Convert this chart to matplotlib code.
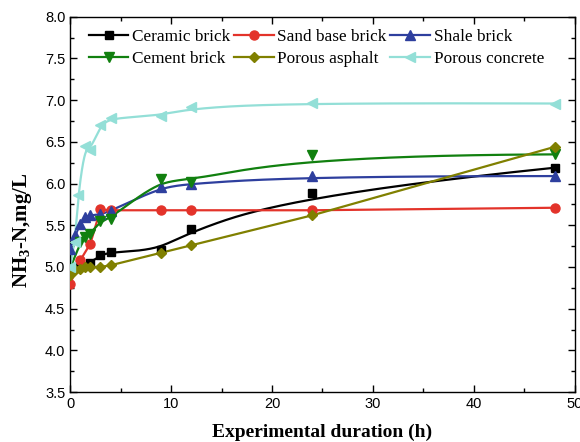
import numpy as np
import matplotlib
matplotlib.use("Agg")
import matplotlib.pyplot as plt
from matplotlib.lines import Line2D
from matplotlib.ticker import MultipleLocator

# Data (time in h, NH3-N in mg/L)
t_ceramic = [0, 1, 2, 3, 4, 9, 12, 24, 48]
ceramic = [4.95, 5.02, 5.05, 5.14, 5.18, 5.20, 5.46, 5.89, 6.19]

t_sand = [0, 1, 2, 3, 4, 9, 12, 24, 48]
sand = [4.80, 5.08, 5.28, 5.69, 5.68, 5.68, 5.68, 5.68, 5.71]

t_shale = [0, 0.5, 1, 1.5, 2, 3, 4, 9, 12, 24, 48]
shale = [5.22, 5.38, 5.52, 5.60, 5.62, 5.63, 5.67, 5.96, 6.00, 6.09, 6.09]

t_cement = [0, 1, 1.5, 2, 3, 4, 9, 12, 24, 48]
cement = [4.98, 5.30, 5.36, 5.40, 5.55, 5.58, 6.06, 6.02, 6.34, 6.35]

t_asphalt = [0, 0.5, 1, 1.5, 2, 3, 4, 9, 12, 24, 48]
asphalt = [4.90, 4.96, 4.98, 5.00, 5.00, 5.00, 5.02, 5.17, 5.26, 5.62, 6.44]

t_concrete = [0, 0.5, 0.75, 1.5, 2, 3, 4, 9, 12, 24, 48]
concrete = [5.00, 5.30, 5.86, 6.45, 6.40, 6.70, 6.79, 6.81, 6.92, 6.97, 6.96]

labels = ["Ceramic brick", "Sand base brick", "Shale brick",
          "Cement brick", "Porous asphalt", "Porous concrete"]


def bspline(x, y, n=400, k=3):
    # clamped cubic B-spline using the points as control points (Origin "B-Spline")
    P = np.column_stack([x, y]).astype(float)
    m = len(P)
    knots = np.concatenate([np.zeros(k), np.linspace(0, 1, m - k + 1), np.ones(k)])
    u = np.linspace(0, 1 - 1e-9, n)
    N = np.zeros((n, len(knots) - 1))
    for i in range(len(knots) - 1):
        N[:, i] = (u >= knots[i]) & (u < knots[i + 1])
    for d in range(1, k + 1):
        Nn = np.zeros((n, len(knots) - 1 - d))
        for i in range(len(knots) - 1 - d):
            a = knots[i + d] - knots[i]
            b = knots[i + d + 1] - knots[i + 1]
            left = (u - knots[i]) / a * N[:, i] if a > 0 else 0
            right = (knots[i + d + 1] - u) / b * N[:, i + 1] if b > 0 else 0
            Nn[:, i] = left + right
        N = Nn
    C = N @ P
    C[-1] = P[-1]
    return C[:, 0], C[:, 1]


series = [
    (t_ceramic, ceramic, "black", "s", True),
    (t_sand, sand, "#E3332A", "o", False),
    (t_shale, shale, "#2E3F9E", "^", True),
    (t_cement, cement, "#11800F", "v", True),
    (t_asphalt, asphalt, "#808000", "D", False),
    (t_concrete, concrete, "#93DFD7", "<", True),
]
msizes = {"s": 6, "o": 6.5, "^": 6.5, "v": 7, "D": 5.5, "<": 7}

plt.rcParams["font.family"] = "Liberation Sans"
fig = plt.figure(figsize=(5.8, 4.42), dpi=100)
ax = fig.add_axes([0.121, 0.113, 0.870, 0.849])

handles = []
for t, v, c, m, smooth in series:
    if smooth:
        sx, sy = bspline(t, v)
        ax.plot(sx, sy, color=c, lw=1.6, zorder=2)
    else:
        ax.plot(t, v, color=c, lw=1.6, zorder=2)
    ax.plot(t, v, ls="none", marker=m, ms=msizes[m], color=c, zorder=3)
    handles.append(Line2D([], [], color=c, lw=1.6, marker=m, ms=msizes[m]))

ax.set_xlim(0, 50)
ax.set_ylim(3.5, 8.0)
ax.xaxis.set_major_locator(MultipleLocator(10))
ax.xaxis.set_minor_locator(MultipleLocator(5))
ax.yaxis.set_major_locator(MultipleLocator(0.5))
ax.yaxis.set_minor_locator(MultipleLocator(0.25))
ax.tick_params(which="both", direction="in", top=True, right=True, labelsize=10.5, width=1.0)
ax.tick_params(which="major", length=5)
ax.tick_params(which="minor", length=3)
for s in ax.spines.values():
    s.set_linewidth(1.0)

ax.set_xlabel("Experimental duration (h)", family="Liberation Serif",
              fontweight="bold", fontsize=14, labelpad=9)
ax.set_ylabel(r"NH$_\mathregular{3}$-N,mg/L", family="Liberation Serif",
              fontweight="bold", fontsize=15)
ax.yaxis.set_label_coords(-0.072, 0.43)

# legend fills row by row in the reference
order = [0, 3, 1, 4, 2, 5]
ax.legend([handles[i] for i in order], [labels[i] for i in order], ncol=3,
          loc="upper left", frameon=False,
          prop={"family": "Liberation Serif", "size": 12.4},
          handlelength=2.3, handletextpad=0.22, columnspacing=0.2,
          labelspacing=0.38, borderpad=0, borderaxespad=0,
          bbox_to_anchor=(0.037, 0.968))

fig.savefig("out.png", dpi=100)
